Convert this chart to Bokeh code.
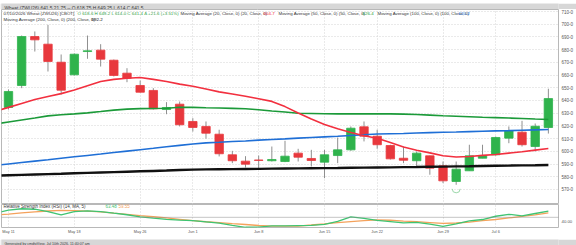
import math
from bokeh.plotting import figure
from bokeh.layouts import column
from bokeh.models import (ColumnDataSource, Range1d, LinearAxis, FixedTicker,
                          Grid, Label, Span)
from bokeh.embed import file_html
from bokeh.resources import INLINE

FONT = "Liberation Sans"

# ---------------- data ----------------
dates = ["May 11", "May 12", "May 13", "May 14", "May 15",
         "May 18", "May 19", "May 20", "May 21", "May 22",
         "May 26", "May 27", "May 28", "May 29",
         "Jun 1", "Jun 2", "Jun 3", "Jun 4", "Jun 5",
         "Jun 8", "Jun 9", "Jun 10", "Jun 11", "Jun 12",
         "Jun 15", "Jun 16", "Jun 17", "Jun 18",
         "Jun 22", "Jun 23", "Jun 24", "Jun 25", "Jun 26",
         "Jun 29", "Jun 30", "Jul 1", "Jul 2",
         "Jul 6", "Jul 7", "Jul 8", "Jul 9", "Jul 10"]

opens = [634.5, 651.8, 690.3, 684.3, 670.1, 660.2, 678.5, 679.6, 671.7, 661.5,
         651.8, 647.9, 632.9, 637.1, 623.5, 619.6, 613.5, 597.3, 592.3, 593.2,
         592.6, 592.0, 598.6, 594.4, 591.5, 596.7, 601.2, 619.3, 611.9, 604.6,
         594.6, 592.6, 596.5, 588.6, 576.3, 584.7, 594.6, 597.3, 610.4, 615.1,
         603.8, 618.75]
highs = [648.7, 691.1, 694.3, 699.5, 676.2, 677.0, 691.1, 684.3, 672.2, 665.4,
         655.7, 649.7, 638.7, 639.2, 626.1, 623.5, 617.0, 600.4, 596.2, 596.7,
         603.8, 608.3, 602.0, 601.2, 601.2, 610.9, 619.6, 623.5, 617.0, 605.2,
         603.8, 599.9, 596.7, 592.0, 592.0, 605.2, 605.2, 611.7, 619.6, 624.0,
         621.9, 649.25]
lows = [632.9, 649.7, 678.5, 662.8, 644.7, 659.7, 672.8, 666.7, 658.9, 654.4,
        646.3, 632.9, 629.2, 619.6, 615.6, 610.0, 596.0, 590.7, 587.3, 585.5,
        592.0, 591.5, 592.0, 588.1, 578.9, 590.7, 600.4, 607.8, 602.0, 593.6,
        590.7, 588.1, 581.6, 575.0, 573.7, 584.7, 594.6, 596.7, 606.4, 603.8,
        599.9, 614.0]
closes = [647.1, 690.3, 687.7, 670.7, 648.1, 676.4, 679.1, 672.5, 659.7, 657.5,
          646.5, 633.5, 634.5, 620.9, 618.8, 614.3, 598.1, 592.6, 589.9, 592.9,
          593.6, 596.2, 595.4, 592.8, 597.3, 601.2, 618.2, 611.9, 605.2, 594.1,
          593.0, 598.6, 586.8, 576.8, 586.0, 596.5, 596.7, 610.9, 616.2, 605.2,
          619.75, 641.5]

# indicator series start one session earlier (May 8) so they reach the left edge
ind_dates = ["May 8"] + dates
ma20 = [631.5, 634.6, 637.7, 640.8, 643.1, 645.4, 648.3, 651.6, 654.9, 656.6,
        657.5, 658.1, 656.6, 655.0, 652.9, 651.2, 649.0, 646.8, 645.1, 643.4,
        641.4, 639.3, 635.2, 630.2, 625.4, 621.2, 617.7, 614.8, 612.3, 610.3,
        607.0, 603.4, 600.9, 598.8, 596.6, 595.6, 596.0, 596.8, 597.5, 598.6,
        599.7, 601.0, 602.3]
ma50 = [621.5, 623.1, 624.7, 626.2, 627.9, 628.8, 629.5, 630.3, 631.3, 632.4,
        633.2, 633.6, 633.7, 633.9, 634.7, 634.6, 634.3, 634.1, 633.8, 633.5,
        632.7, 631.7, 630.9, 630.0, 629.8, 629.6, 629.5, 629.5, 629.5, 629.5,
        629.5, 629.3, 629.0, 628.5, 628.0, 627.6, 627.2, 626.8, 626.5, 626.2,
        625.8, 625.4, 625.1]
ma100 = [589.0, 590.1, 591.2, 592.3, 593.4, 594.6, 595.7, 596.8, 597.9, 599.1,
         600.2, 601.3, 602.4, 603.6, 604.7, 605.8, 606.7, 607.2, 607.8, 608.2,
         608.8, 609.3, 609.8, 610.4, 610.9, 611.4, 611.9, 612.5, 613.0, 613.6,
         613.9, 614.1, 614.4, 614.7, 615.0, 615.2, 615.5, 615.8, 616.1, 616.3,
         616.6, 616.9, 617.2]
ma200 = [580.9, 581.2, 581.5, 581.8, 582.1, 582.4, 582.8, 583.1, 583.4, 583.7,
         584.0, 584.3, 584.6, 584.9, 585.3, 585.6, 585.8, 585.9, 586.0, 586.1,
         586.2, 586.4, 586.5, 586.6, 586.7, 586.8, 586.9, 587.1, 587.2, 587.3,
         587.4, 587.6, 587.7, 587.9, 588.0, 588.2, 588.3, 588.5, 588.7, 588.8,
         589.0, 589.1, 589.3]
rsi = [59.0, 65.5, 68.6, 67.6, 62.4, 55.2, 62.4, 64.1, 62.4, 58.9, 55.6,
       51.0, 48.1, 45.7, 44.0, 42.8, 40.1, 37.4, 32.4, 28.3, 28.5,
       31.2, 31.2, 31.8, 32.4, 34.5, 41.3, 51.0, 47.5, 43.4, 40.7,
       38.0, 39.0, 35.1, 30.3, 35.5, 42.1, 45.2, 52.3, 56.6, 53.1,
       58.3, 63.48]
rsi_ma = [55.0, 56.8, 59.5, 62.0, 63.7, 64.9, 64.7, 63.4, 62.0, 59.1, 56.4,
          53.7, 51.2, 48.6, 45.7, 42.8, 40.3, 38.4, 36.1, 34.3, 32.2,
          31.0, 31.0, 31.0, 33.2, 35.7, 38.4, 40.7, 42.6, 44.4, 43.6,
          41.9, 40.5, 38.6, 36.6, 37.6, 39.7, 42.8, 45.2, 48.6, 52.1,
          55.4, 59.55]

signal_dates = ["Jun 30"]
signal_prices = [570.5]

tick_dates = ["May 11", "May 18", "May 26", "Jun 1", "Jun 8", "Jun 15",
              "Jun 22", "Jun 29", "Jul 6"]
price_ticks = [570, 580, 590, 600, 610, 620, 630, 640, 650, 660, 670, 680,
               690, 700, 710]
price_tick_labels = ["570-0", "580-0", "590-0", "600-0", "610-0", "620-0",
                     "630-0", "640-0", "650-0", "660-0", "670-0", "680-0",
                     "690-0", "700-0", "710-0"]
rsi_ticks = [40]
rsi_tick_labels = ["40.00"]

title_text = "Wheat (ZWU26) 641.5 21.75 -- O 618.75 H 649.25 L 614 C 641.5"
footer_text = "Generated by cmdtyView, Jul 10th 2026, 11:40:07 am"
badge_close = "641-4"
ma_labels = {"ma20": "604-7", "ma50": "626-4", "ma100": "620-2", "ma200": "592-2"}
rsi_labels = ["63.48", "59.55"]

# ---------------- styling ----------------
UP = "#2fb34c"
DOWN = "#e8383d"
C20 = "#f2303f"
C50 = "#1b9a39"
C100 = "#1f6fd6"
C200 = "#111111"
CRSI = "#3fc472"
CRSIMA = "#f4a25c"
GREY_BAR = "#d7d7d7"
GRID = "#d4d4d4"

idx = list(range(len(dates)))
ind_idx = [i - 1 for i in range(len(ind_dates))]
tick_idx = [dates.index(d) for d in tick_dates]

colors = [UP if c >= o else DOWN for o, c in zip(opens, closes)]
src = ColumnDataSource(dict(
    x=idx, o=opens, h=highs, l=lows, c=closes,
    top=[max(o, c) for o, c in zip(opens, closes)],
    bottom=[min(o, c) for o, c in zip(opens, closes)],
    color=colors))

xr = Range1d(-0.53, 41.77)

AXIS_STYLE = dict(axis_line_color=None, major_tick_line_color=None,
                  minor_tick_line_color=None, major_tick_out=0, major_tick_in=0,
                  minor_tick_out=0, minor_tick_in=0,
                  major_label_text_font=FONT, major_label_text_color="#555555")

def band(height, text, size, ty):
    f = figure(width=576, height=height, title=None,
               x_range=Range1d(0, 576), y_range=Range1d(0, height),
               x_axis_type=None, y_axis_type=None, toolbar_location=None,
               output_backend="svg", min_border=0, sizing_mode="fixed",
               background_fill_color=GREY_BAR, border_fill_color=GREY_BAR,
               outline_line_color=None)
    f.add_layout(Label(x=3, y=ty, x_units="screen", y_units="screen",
                       text=text, text_font=FONT, text_font_size=size,
                       text_color="#3a3a3a", text_baseline="middle"))
    return f

# ---------------- header bar ----------------
hdr = band(9, title_text, "4.8px", 4.5)

# ---------------- main price panel ----------------
p1 = figure(width=576, height=195, title=None, x_range=xr,
            y_range=Range1d(558.2, 711.57),
            x_axis_type=None, y_axis_type=None, toolbar_location=None,
            output_backend="svg", min_border_left=1, min_border_right=17,
            min_border_top=0, min_border_bottom=0, sizing_mode="fixed",
            background_fill_color="white", border_fill_color="white",
            outline_line_color="#b8b8b8")
yax = LinearAxis(ticker=FixedTicker(ticks=price_ticks),
                 major_label_overrides=dict(zip(price_ticks, price_tick_labels)),
                 major_label_standoff=3, major_label_text_font_size="4.5px",
                 **AXIS_STYLE)
p1.add_layout(yax, "right")
p1.add_layout(Grid(dimension=1, ticker=FixedTicker(ticks=price_ticks),
                   grid_line_color=GRID, grid_line_dash="1 2"))
p1.add_layout(Grid(dimension=0, ticker=FixedTicker(ticks=tick_idx),
                   grid_line_color=GRID, grid_line_dash="1 2"))

p1.segment(x0="x", y0="l", x1="x", y1="h", source=src,
           line_color="#8f8f8f", line_width=1)
p1.vbar(x="x", width=0.64, top="top", bottom="bottom", source=src,
        fill_color="color", line_color="color", line_width=0.8)

p1.line(ind_idx, ma200, line_color=C200, line_width=2.4)
p1.line(ind_idx, ma100, line_color=C100, line_width=1.6)
p1.line(ind_idx, ma50, line_color=C50, line_width=1.6)
p1.line(ind_idx, ma20, line_color=C20, line_width=1.6)

sig_x = [dates.index(d) for d in signal_dates]
p1.arc(x=sig_x, y=signal_prices, radius=0.3, start_angle=math.pi,
       end_angle=2 * math.pi, line_color="#9bd8aa", line_width=1)

def tlabel(p, x, y, text, color, size="4.4px"):
    p.add_layout(Label(x=x, y=y, x_units="screen", y_units="screen", text=text,
                       text_color=color, text_font=FONT, text_font_size=size,
                       text_baseline="middle", text_align="left"))

LH = 195
tlabel(p1, 2, LH - 4, "07/10/2026 Wheat (ZWU26) [CBOT]", "#333333")
tlabel(p1, 76, LH - 4, "O 618-6 H 649-2 L 614-0 C 641-4 \u0394 +21-6 (+3.51%)", "#2ea043")
tlabel(p1, 179, LH - 4, "Moving Average (20, Close, 0) (20, Close, 0)", "#333333")
tlabel(p1, 262, LH - 4, ma_labels["ma20"], C20)
tlabel(p1, 277, LH - 4, "Moving Average (50, Close, 0) (50, Close, 0)", "#333333")
tlabel(p1, 361, LH - 4, ma_labels["ma50"], C50)
tlabel(p1, 376, LH - 4, "Moving Average (100, Close, 0) (100, Close, 0)", "#333333")
tlabel(p1, 457, LH - 4, ma_labels["ma100"], C100)
tlabel(p1, 2, LH - 9.5, "Moving Average (200, Close, 0) (200, Close, 0)", "#333333")
tlabel(p1, 90, LH - 9.5, ma_labels["ma200"], C200)

def badge(p, yval, text, color):
    p.add_layout(Label(x=560, y=yval, x_units="screen", y_units="data",
                       text=text, text_color="white", text_font=FONT,
                       text_font_size="4.3px", text_baseline="middle",
                       text_align="left", background_fill_color=color,
                       padding=1))

badge(p1, closes[-1], badge_close, UP)
badge(p1, ma50[-1], ma_labels["ma50"], "#1d8a36")
badge(p1, ma100[-1], ma_labels["ma100"], C100)
badge(p1, ma20[-1], ma_labels["ma20"], C20)
badge(p1, ma200[-1], ma_labels["ma200"], C200)

# ---------------- RSI panel ----------------
p2 = figure(width=576, height=32, title=None, x_range=xr,
            y_range=Range1d(27.8, 77.9),
            x_axis_type=None, y_axis_type=None, toolbar_location=None,
            output_backend="svg", min_border_left=1, min_border_right=17,
            min_border_top=0, min_border_bottom=8, sizing_mode="fixed",
            background_fill_color="white", border_fill_color="white",
            outline_line_color="#b8b8b8")
xax = LinearAxis(ticker=FixedTicker(ticks=tick_idx),
                 major_label_overrides=dict(zip(tick_idx, tick_dates)),
                 major_label_standoff=1, major_label_text_font_size="3.9px",
                 **AXIS_STYLE)
p2.add_layout(xax, "below")
ryax = LinearAxis(ticker=FixedTicker(ticks=rsi_ticks),
                  major_label_overrides=dict(zip(rsi_ticks, rsi_tick_labels)),
                  major_label_standoff=3, major_label_text_font_size="4.3px",
                  **AXIS_STYLE)
p2.add_layout(ryax, "right")
p2.add_layout(Grid(dimension=0, ticker=FixedTicker(ticks=tick_idx),
                   grid_line_color=GRID, grid_line_dash="1 2"))
p2.add_layout(Span(location=50, dimension="width", line_color="#8a8a8a",
                   line_dash="1 1", line_width=1))
p2.line(ind_idx, rsi_ma, line_color=CRSIMA, line_width=1.3)
p2.line(ind_idx, rsi, line_color=CRSI, line_width=1.3)

tlabel(p2, 2, 21.5, "Relative Strength Index (RSI) (14, MA, 5)", "#333333", "4.5px")
tlabel(p2, 104, 21.5, rsi_labels[0], CRSI, "4.5px")
tlabel(p2, 117, 21.5, rsi_labels[1], CRSIMA, "4.5px")
badge(p2, rsi[-1], rsi_labels[0], "#27b04a")
badge(p2, rsi_ma[-1], rsi_labels[1], "#f0883e")

# ---------------- footer bar ----------------
ftr = band(9, footer_text, "3.6px", 4.5)

layout = column(hdr, p1, p2, ftr, spacing=0, sizing_mode="fixed")
open("out.html", "w").write(file_html(layout, INLINE))
